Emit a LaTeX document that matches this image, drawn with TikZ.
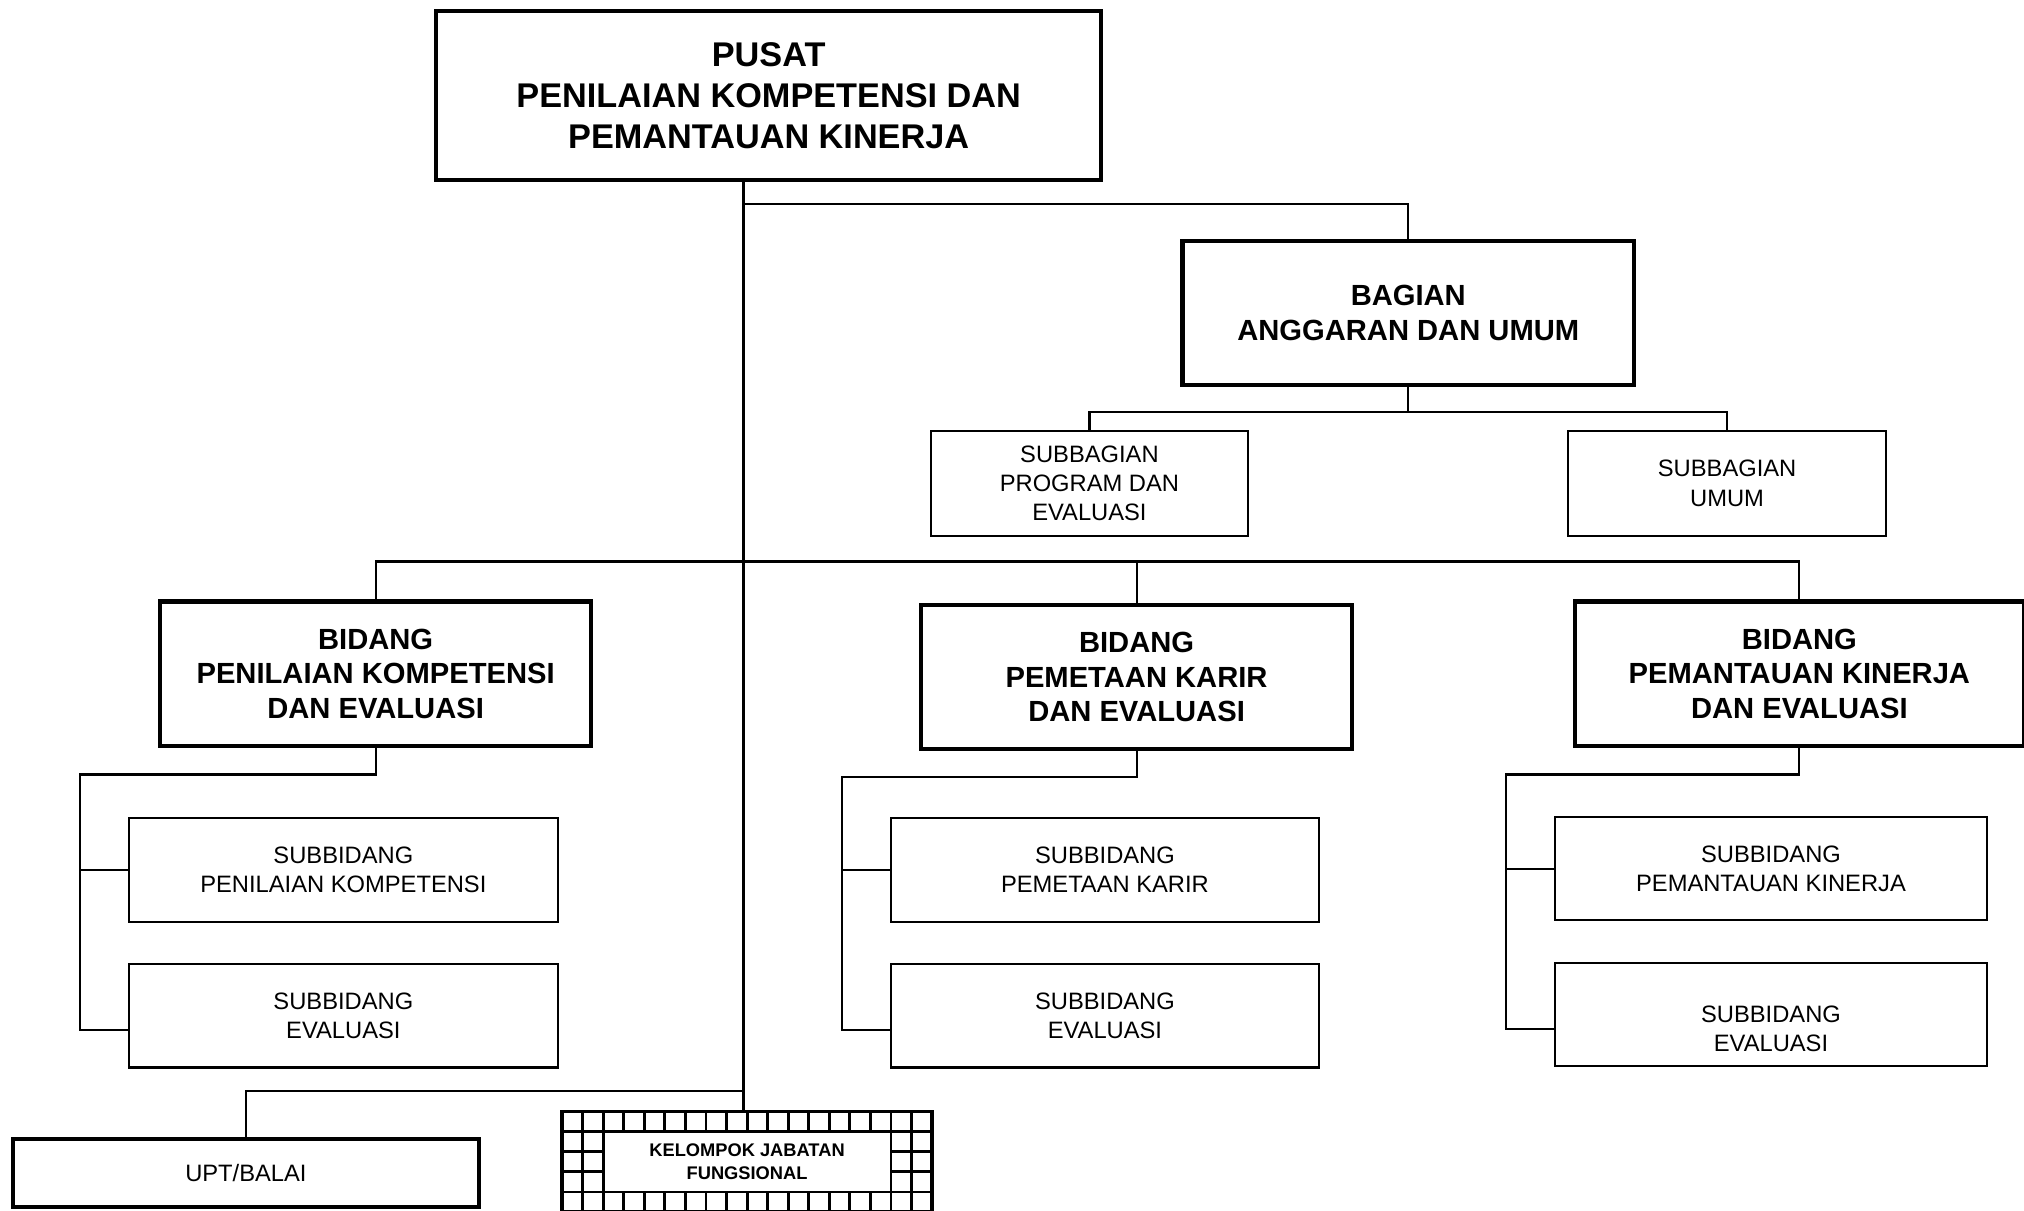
\documentclass[tikz,border=0pt]{standalone}
\usepackage{fontspec}
\setmainfont{Liberation Sans}
\usetikzlibrary{calc}

\newcommand\pxu{0.012908cm}
\tikzset{
    orgbox/.style 2 args={draw, rectangle, inner sep=0pt, outer sep=0pt, align=center,
        minimum width=#1*\pxu, minimum height=#2*\pxu},
    heavy/.style={line width=1.2pt},
    light/.style={line width=0.6pt},
    wire/.style={line width=0.6pt},
    fhead/.style={font=\fontsize{9.75}{11.75}\selectfont\bfseries},
    fbid/.style={font=\fontsize{8.3}{9.9}\selectfont\bfseries},
    fsub/.style={font=\fontsize{6.75}{8.3}\selectfont},
    fkjf/.style={font=\fontsize{5.2}{6.6}\selectfont\bfseries},
}

\begin{document}
\begin{tikzpicture}[x=\pxu, y=-\pxu]
            \useasboundingbox (0,0) rectangle (1568,938);

            \node[orgbox={515}{131}, heavy, fhead] (pusat) at (595.5,74) {PUSAT\\PENILAIAN KOMPETENSI DAN\\PEMANTAUAN KINERJA};
            \node[orgbox={350}{111}, heavy, fbid] (bagian) at (1091,242.5) {BAGIAN\\ANGGARAN DAN UMUM};
            \node[orgbox={246}{81}, light, fsub] (sbprog) at (844,374.5) {SUBBAGIAN\\PROGRAM DAN\\EVALUASI};
            \node[orgbox={246}{81}, light, fsub] (sbumum) at (1338,374.5) {SUBBAGIAN\\UMUM};

            \node[orgbox={334}{112}, heavy, fbid] (bidA) at (291,522) {BIDANG\\PENILAIAN KOMPETENSI\\DAN EVALUASI};
            \node[orgbox={334}{111}, heavy, fbid] (bidB) at (880.5,524.5) {BIDANG\\PEMETAAN KARIR\\DAN EVALUASI};
            \node[orgbox={348}{112}, heavy, fbid] (bidC) at (1394,522) {BIDANG\\PEMANTAUAN KINERJA\\DAN EVALUASI};

            \node[orgbox={332}{80}, light, fsub] (sbA1) at (266,674) {SUBBIDANG\\PENILAIAN KOMPETENSI};
            \node[orgbox={332}{80}, light, fsub] (sbA2) at (266,787) {SUBBIDANG\\EVALUASI};
            \node[orgbox={332}{80}, light, fsub] (sbB1) at (856,674) {SUBBIDANG\\PEMETAAN KARIR};
            \node[orgbox={332}{80}, light, fsub] (sbB2) at (856,787) {SUBBIDANG\\EVALUASI};
            \node[orgbox={334}{80}, light, fsub] (sbC1) at (1372,673) {SUBBIDANG\\PEMANTAUAN KINERJA};
            \node[orgbox={334}{80}, light, fsub] (sbC2) at (1372,786) {\vphantom{S}\\SUBBIDANG\\EVALUASI};

            \node[orgbox={361}{52.4}, heavy, fsub] (upt) at (190.5,908.6) {UPT/BALAI};

            % jabatan fungsional: frame of small cells round the name
            \node[orgbox={286.5}{78}, line width=1pt] (kjf) at (578.75,900) {};
            \foreach \i in {1,...,17}
                \draw[line width=0.8pt] ($(kjf.north west)+(\i*15.92,0)$) -- ($(kjf.south west)+(\i*15.92,0)$);
            \foreach \j in {1,...,4}
                \draw[line width=0.8pt] ($(kjf.north west)+(0,\j*15.6)$) -- ($(kjf.north east)+(0,\j*15.6)$);
            \node[orgbox={222.9}{46.8}, line width=0.8pt, fill=white, fkjf] (kjfin) at (kjf) {KELOMPOK JABATAN\\FUNGSIONAL};

            \coordinate (tap) at (576,158);
            \coordinate (bus) at (576,435);
            \coordinate (trunk) at (576,845);

            \draw[wire] (pusat.south -| trunk) -- (trunk) -- (kjf.north -| trunk);
            \draw[wire] (tap) -| (bagian.north);
            \draw[wire] (bagian.south) -- ++(0,21) coordinate (bagbus);
            \draw[wire] (sbprog.north) |- (bagbus) -| (sbumum.north);
            \draw[wire] (bidA.north) |- (bus) -| (bidC.north);
            \draw[wire] (bidB.north) -- (bidB.north |- bus);
            \foreach \c in {A,B,C} {
                \draw[wire] (bid\c.south) -- ++(0,22) -| ($(sb\c2.west)+(-38,11)$) -- ($(sb\c2.west)+(0,11)$);
                \draw[wire] (sb\c1.west) -- ++(-38,0);
            }
            \draw[wire] (trunk) -| (upt.north);
        \end{tikzpicture}
\end{document}
